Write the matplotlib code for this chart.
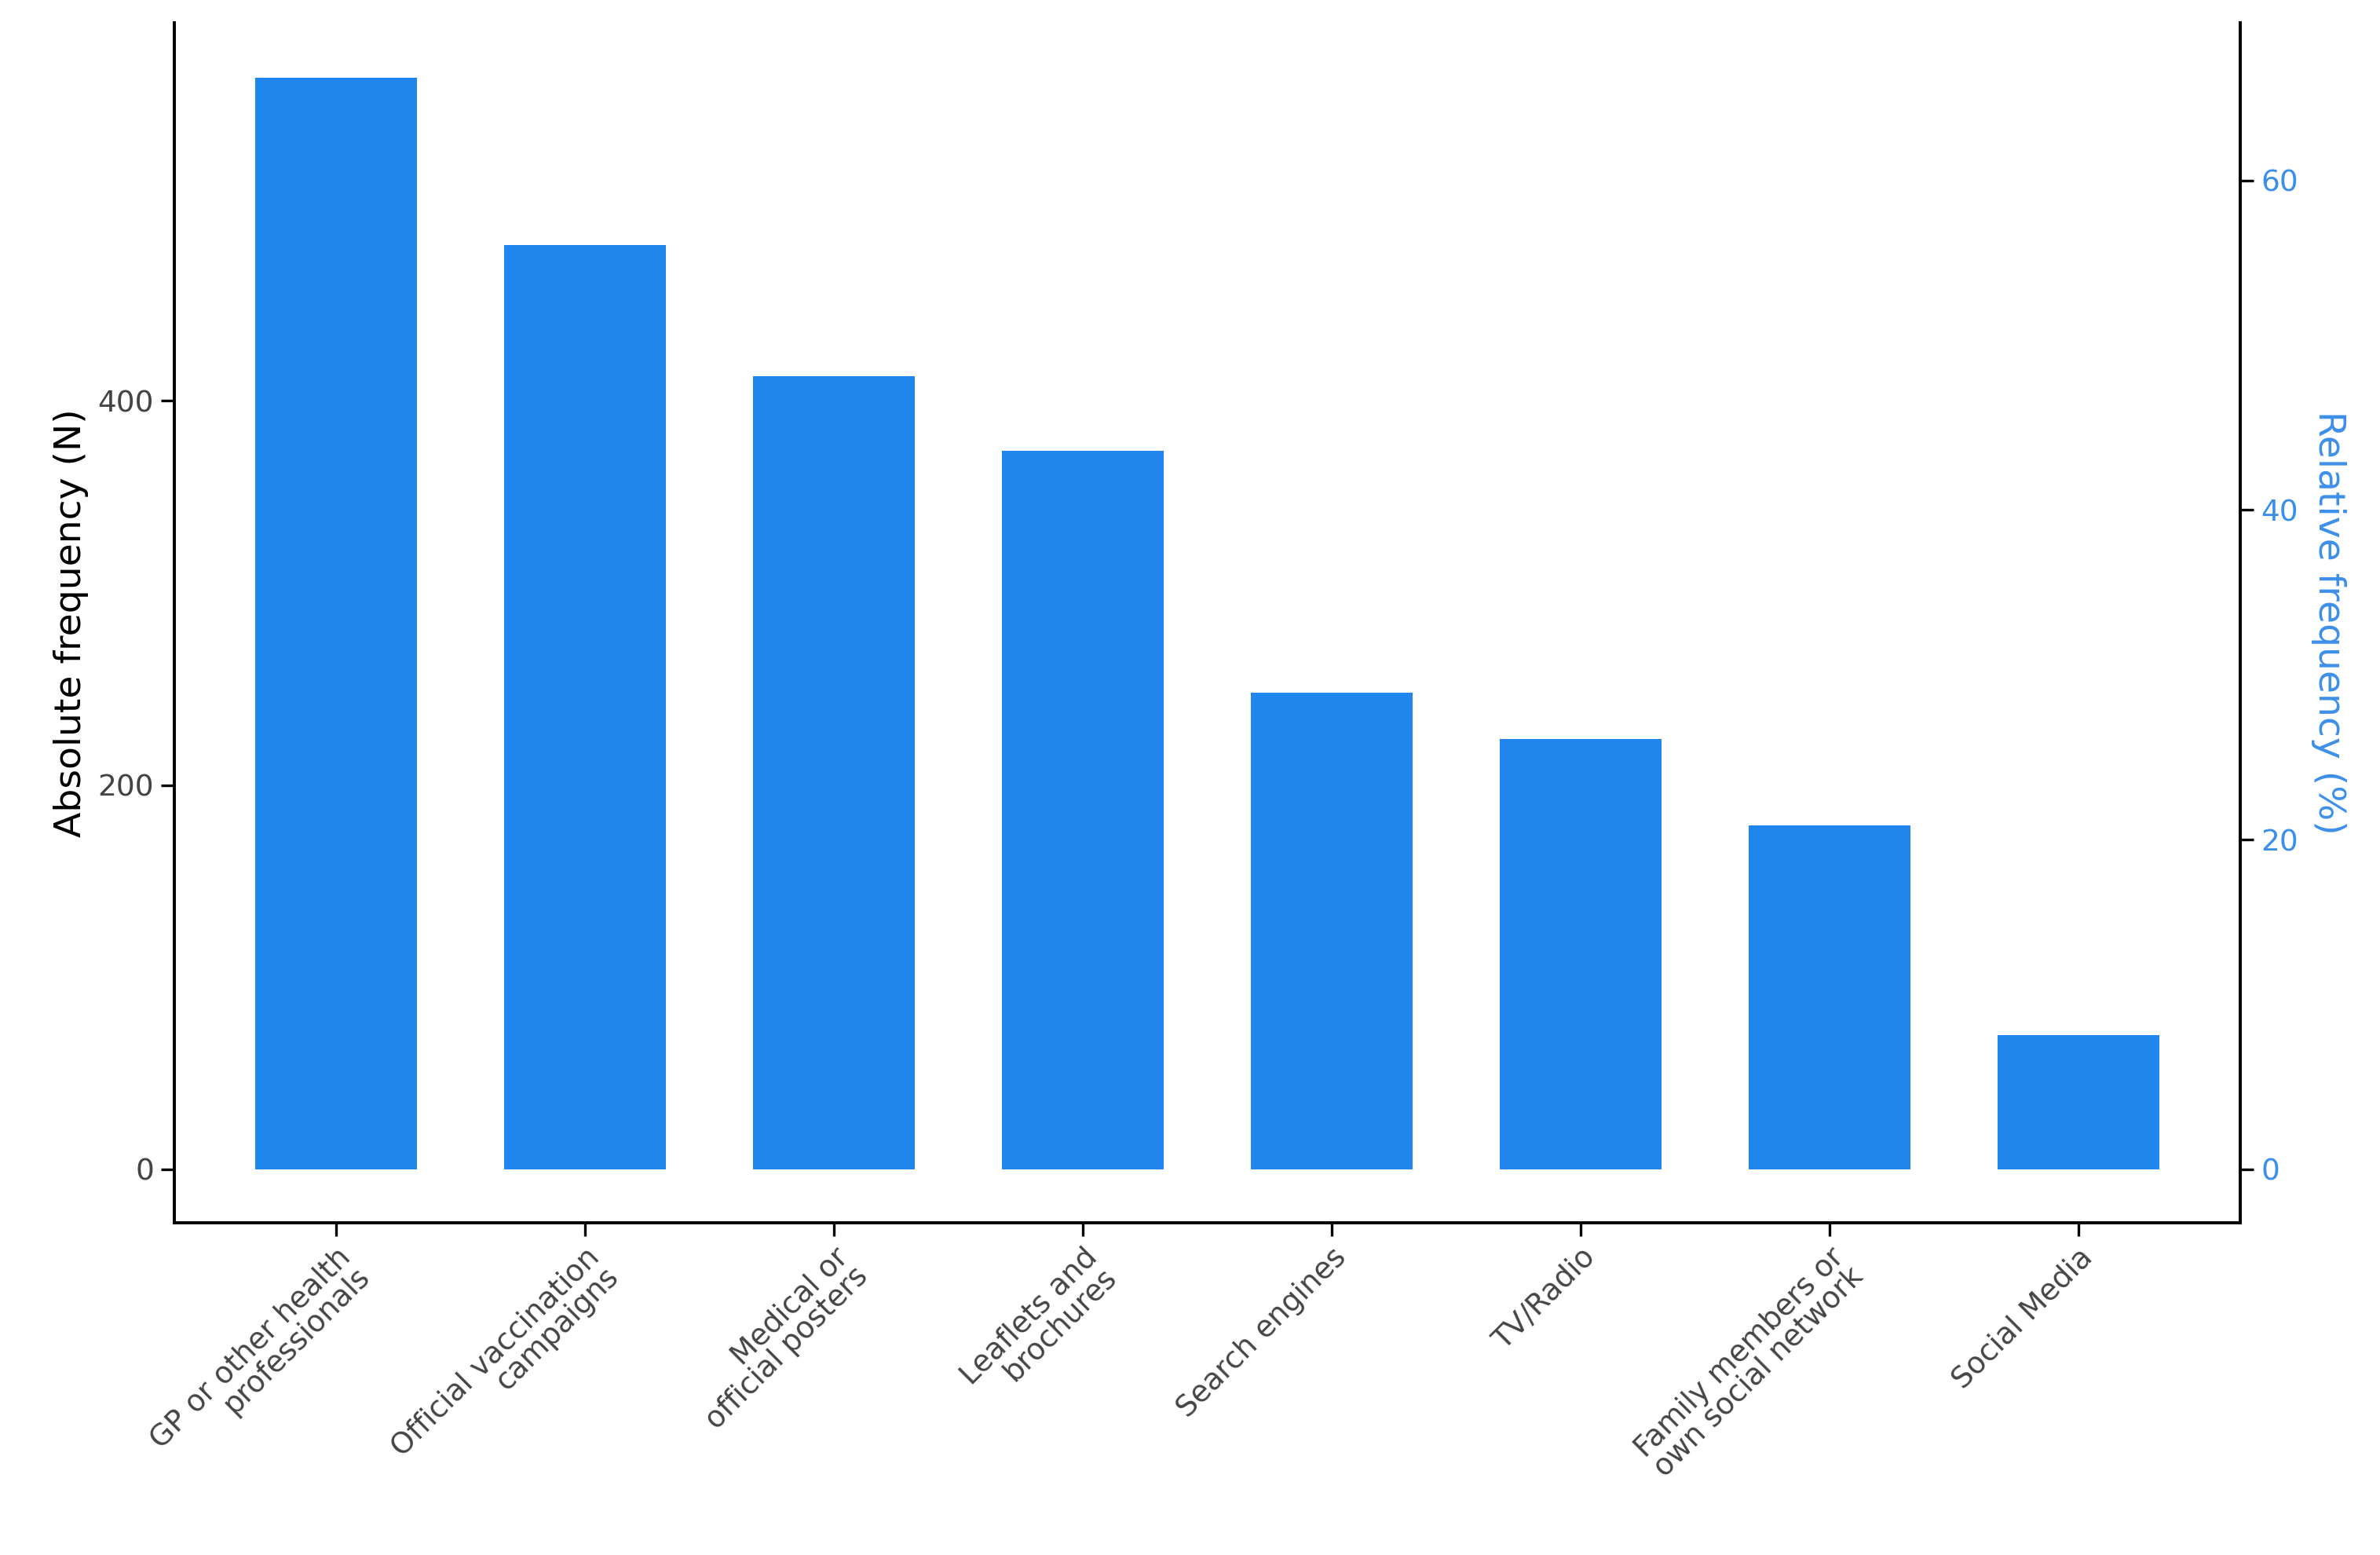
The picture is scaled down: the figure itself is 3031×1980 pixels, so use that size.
import matplotlib.pyplot as plt
import numpy as np

categories = ['GP or other health\nprofessionals', 'Official vaccination\ncampaigns',
              'Medical or\nofficial posters', 'Leaflets and\nbrochures', 'Search engines',
              'TV/Radio', 'Family members or\nown social network', 'Social Media']
counts = [568, 481, 413, 374, 248, 224, 179, 70]
total_n = 858  # right axis: percent of respondents

bar_color = '#1E86EC'
right_color = '#3C8FE8'

fig = plt.figure(figsize=(15.155, 9.9), dpi=200)
ax = fig.add_axes([115/1568, 1 - 805/1024, (1476-115)/1568, (805-15)/1024])
x = np.arange(len(categories))
ax.bar(x, counts, width=0.65, color=bar_color)

ylo, yhi = -27.7, 596.8
ax.set_ylim(ylo, yhi)
ax.set_xlim(-0.65, len(categories) - 0.35)
ax.set_yticks([0, 200, 400])
ax.set_ylabel('Absolute frequency (N)', fontsize=17)
ax.set_xticks(x)
ax.set_xticklabels(categories, rotation=45, ha='right', rotation_mode='anchor',
                   fontsize=13.5, color='#444444', linespacing=0.95)
ax.tick_params(axis='y', labelsize=13.5, labelcolor='#444444', length=6, width=1.2)
ax.tick_params(axis='x', length=6, width=1.2)
for s in ax.spines.values():
    s.set_linewidth(1.3)

ax2 = ax.twinx()
ax2.set_ylim(ylo * 100 / total_n, yhi * 100 / total_n)
ax2.set_yticks([0, 20, 40, 60])
ax2.set_ylabel('Relative frequency (%)', fontsize=17, color=right_color,
               rotation=270, labelpad=22)
ax2.tick_params(axis='y', labelsize=13.5, labelcolor=right_color, length=6, width=1.2)
for s in ax2.spines.values():
    s.set_linewidth(1.3)
ax2.spines['top'].set_visible(False)
ax.spines['top'].set_visible(False)

fig.savefig('out.png')
